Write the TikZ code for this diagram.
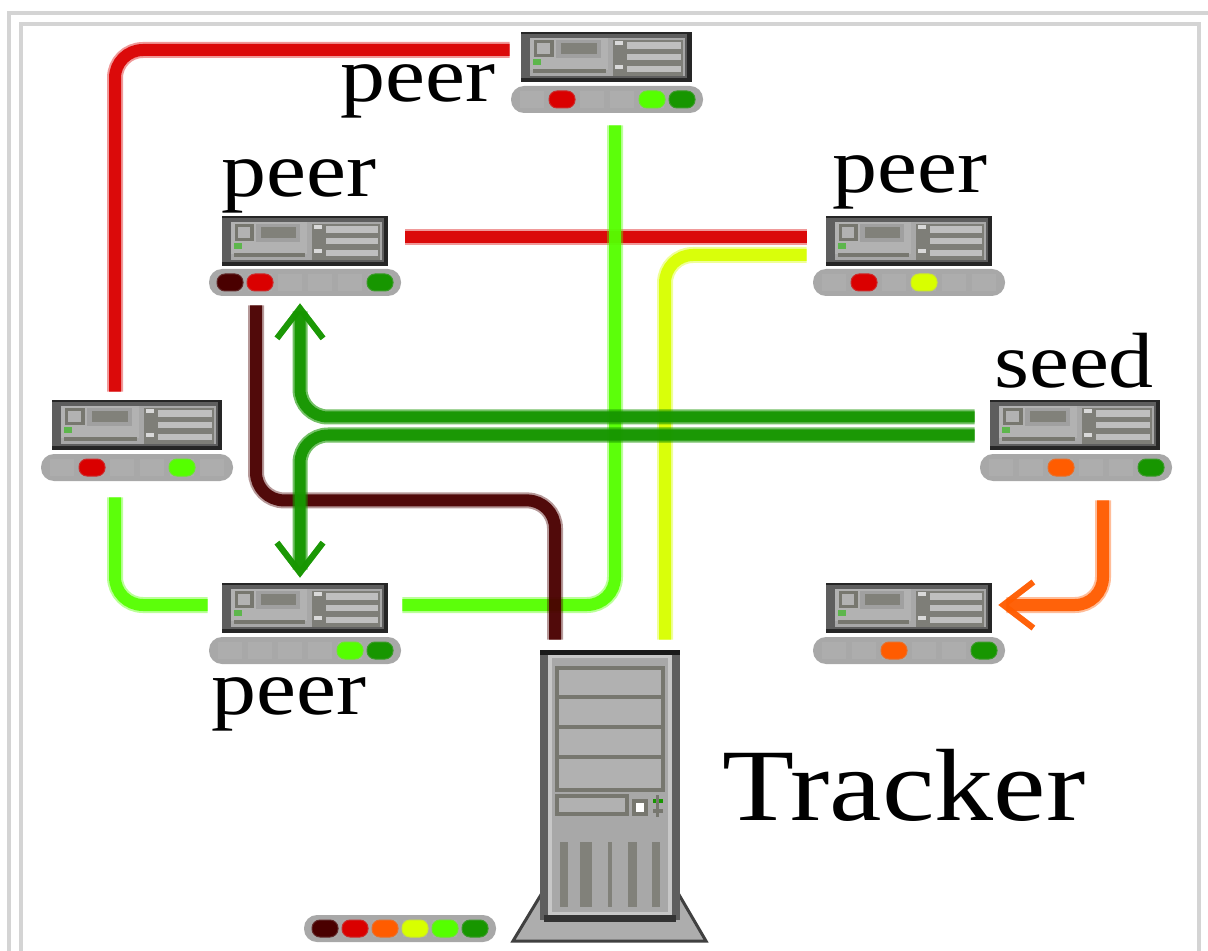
\documentclass[tikz,border=0pt]{standalone}
\usepackage{fontspec}
\usepackage{graphicx}
\setmainfont{Liberation Serif}
\usetikzlibrary{arrows.meta}
\definecolor{cDark}{HTML}{4A0000}
\definecolor{cRed}{HTML}{DA0000}
\definecolor{cOrange}{HTML}{FF5C00}
\definecolor{cYellow}{HTML}{D8FF00}
\definecolor{cLime}{HTML}{55FF00}
\definecolor{cGreen}{HTML}{179600}
\definecolor{cFrame}{HTML}{D4D4D4}
\definecolor{cBody}{HTML}{A8A8A8}
\definecolor{cLine}{HTML}{77776F}
\definecolor{cEdge}{HTML}{5E5E5E}
\tikzset{
  srvbox/.style={draw=none,inner sep=0pt,minimum width=85pt,minimum height=25pt},
  bar/.style={draw=none,fill=cBody,rounded corners=6.5pt},
  slot/.style={fill=#1,draw=#1!75!cBody,line width=.5pt,rounded corners=4pt},
  wire/.style={preaction={draw=#1,opacity=.4,line width=8pt},line width=6pt,draw=#1,opacity=.93,rounded corners=14pt},
  gwire/.style={preaction={draw=cGreen,opacity=.6,line width=7.5pt},line width=5.5pt,draw=cGreen,opacity=.95,rounded corners=14pt},
  barb/.style={-{Straight Barb[length=15pt,width=23pt,line width=3pt]}},
  lab/.style={inner sep=0pt,anchor=base,text=black,font=\fontsize{45}{45}\selectfont},
}
% name, centre x, centre y, width
\newcommand{\srv}[4]{%
  \node[srvbox] (#1) at (#2,#3) {};
  \begin{scope}[shift={(#2-#4/2,#3-25)},xscale=#4/170]
    \fill[cEdge] (0,0) rectangle (170,50);
    \fill[black!85] (0,0) rectangle (170,2);
    \fill[black!85] (0,46) rectangle (170,50);
    \fill[black!85] (166,0) rectangle (170,50);
    \fill[cBody] (9,6) rectangle (164,44);
    \fill[black!30] (9,6) rectangle (87,38);
    \fill[cBody!95!black] (35,8) rectangle (80,26);
    \fill[cLine!80!cBody] (40,11) rectangle (76,22);
    \fill[cLine] (13,8) rectangle (33,25);
    \fill[black!30] (16,11) rectangle (29,22);
    \fill[cGreen!70!white] (12,27) rectangle (20,33);
    \fill[cLine] (12,37) rectangle (85,41);
    \fill[cLine!85!cBody] (92,8) rectangle (104,44);
    \fill[black!15] (94,9) rectangle (102,13);
    \fill[black!15] (94,33) rectangle (102,37);
    \fill[cLine!85!cBody] (104,8) rectangle (162,44);
    \fill[black!25] (106,10) rectangle (160,17);
    \fill[black!25] (106,22) rectangle (160,28);
    \fill[black!25] (106,34) rectangle (160,40);
  \end{scope}}
% left x, top y, then list of offset/colour
\newcommand{\leds}[3]{%
  \fill[bar] (#1,#2) rectangle ++(192,27);
  \foreach \k in {0,1,2,3,4,5} {\fill[black!32] (#1+21+30*\k-12,#2+5) rectangle ++(24,17);}
  \foreach \k/\c in {#3} {\fill[slot=\c] (#1+21+30*\k-13,#2+5) rectangle ++(26,17);}}
\newcommand{\squat}[1]{\scalebox{1}[.87]{#1}}
\begin{document}
\begin{tikzpicture}[x=.5pt,y=-.5pt]
\useasboundingbox (0,0) rectangle (1208,951);
\fill[white] (0,0) rectangle (1208,951);
\draw[cFrame,line width=1.8pt] (1208,13) -- (9,13) -- (9,951);
\draw[cFrame,line width=1.8pt] (21,951) -- (21,24) -- (1199,24) -- (1199,951);

% servers
\srv{top}{606}{57}{171}
\srv{pa}{305}{241}{166}
\srv{pb}{909}{241}{166}
\srv{left}{137}{425}{170}
\srv{seed}{1075}{425}{170}
\srv{pc}{305}{608}{166}
\srv{pd}{909}{608}{166}
\leds{511}{86}{1/cRed,4/cLime,5/cGreen}
\leds{209}{269}{0/cDark,1/cRed,5/cGreen}
\leds{813}{269}{1/cRed,3/cYellow}
\leds{41}{454}{1/cRed,4/cLime}
\leds{980}{454}{2/cOrange,5/cGreen}
\leds{209}{637}{4/cLime,5/cGreen}
\leds{813}{637}{2/cOrange,5/cGreen}
\leds{304}{915}{0/cDark,1/cRed,2/cOrange,3/cYellow,4/cLime,5/cGreen}

% tracker
\node[inner sep=0pt,minimum width=70pt,minimum height=136pt] (tracker) at (610,786) {};
\fill[black!32] (513,941) -- (542,893) -- (678,893) -- (706,941) -- cycle;
\draw[black!75,line width=1.5pt] (542,893) -- (513,941) -- (706,941) -- (678,893);
\fill[cEdge] (540,650) rectangle (680,920);
\fill[black!90] (540,650) rectangle (680,655);
\fill[black!80] (544,915) rectangle (676,922);
\fill[black!22] (548,655) rectangle (672,915);
\fill[cBody] (552,658) rectangle (668,912);
\foreach \a/\b in {668/697,697/727,727/757,757/790}
  {\draw[cLine,line width=1.6pt,fill=cBody!90!white] (557,\a) rectangle (663,\b);}
\draw[cLine,line width=1.6pt,fill=cBody!90!white] (557,796) rectangle (627,814);
\draw[cLine,line width=1.8pt,fill=white] (634,801) rectangle (646,814);
\fill[cGreen] (653,799) rectangle (663,803);
\fill[cLine] (653,809) rectangle (663,813);
\fill[cLine] (656,795) rectangle (659,817);
\foreach \a/\b in {560/568,580/592,608/612,628/637,652/660}
  {\fill[cLine!80!cBody] (\a,842) rectangle (\b,907);}

% connectors
\draw[wire=cRed] ([shift={(-11,-7)}]top.west) -| ([shift={(-22,-8)}]left.north);
\draw[wire=cRed,rounded corners=0pt] ([shift={(15,-4)}]pa.east) -- ([shift={(-17,-4)}]pb.west);
\draw[wire=cYellow] ([shift={(-17,14)}]pb.west) -| ([shift={(55,-10)}]tracker.north);
\draw[wire=cLime] ([shift={(-22,47)}]left.south) |- ([shift={(-12,-3)}]pc.west);
\draw[wire=cLime] ([shift={(12,-3)}]pc.east) -| ([shift={(9,43)}]top.south);
\draw[wire=cDark] ([shift={(-49,39)}]pa.south) |- ++(299,195) -- ([shift={(-55,-10)}]tracker.north);
\draw[gwire,barb] ([shift={(-15,-8)}]seed.west) -| ([shift={(-5,37)}]pa.south);
\draw[gwire,barb] ([shift={(-15,10)}]seed.west) -| ([shift={(-5,-5)}]pc.north);
\draw[wire=cOrange,barb] ([shift={(28,50)}]seed.south) |- ([shift={(4,-3)}]pd.east);

% labels
\node[lab] (l1) at (418,102) {\squat{peer}};
\node[lab] (l2) at (299,197) {\squat{peer}};
\node[lab] (l3) at (910,193) {\squat{peer}};
\node[lab] (l4) at (1074,387) {\squat{seed}};
\node[lab] (l5) at (289,714) {\squat{peer}};
\node[lab,font=\fontsize{59}{59}\selectfont] (l6) at (904,820) {\squat{Tracker}};
\end{tikzpicture}
\end{document}
